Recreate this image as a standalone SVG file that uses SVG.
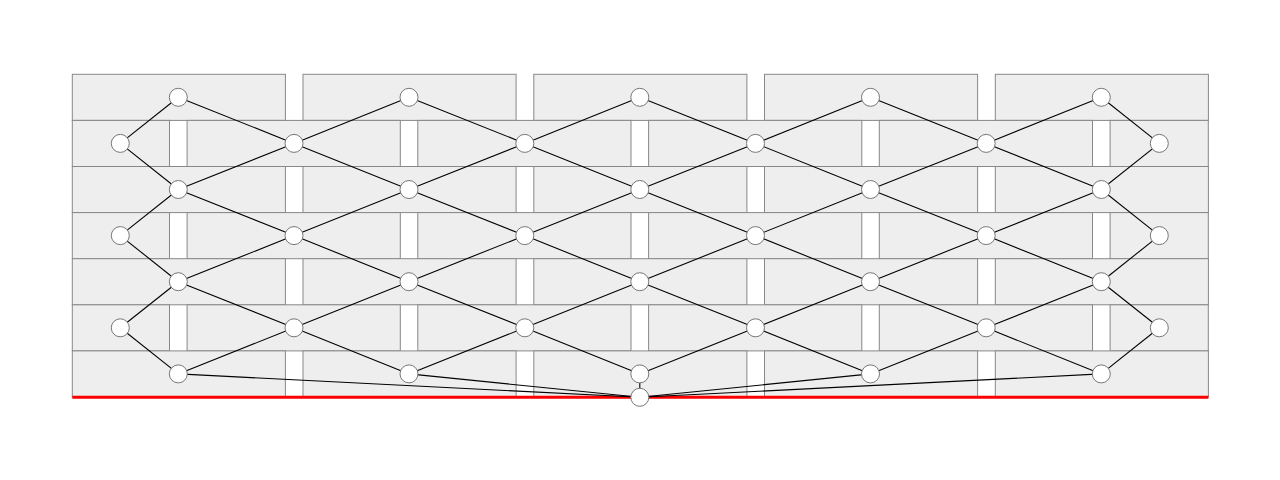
<svg xmlns="http://www.w3.org/2000/svg" width="1280" height="480" viewBox="0 0 1280 480">
<style>
.cell{fill:#eeeeee;stroke:#888888;stroke-width:1}
.edge{stroke:#000000;stroke-width:1.1;fill:none}
.node{fill:#ffffff;stroke:#777777;stroke-width:1}
.base{stroke:#ff0000;stroke-width:3}
</style>
<g id="grid">
<rect class="cell" x="72.3" y="74.3" width="213.1" height="46.1"/>
<rect class="cell" x="303" y="74.3" width="213.1" height="46.1"/>
<rect class="cell" x="533.8" y="74.3" width="213.1" height="46.1"/>
<rect class="cell" x="764.5" y="74.3" width="213.1" height="46.1"/>
<rect class="cell" x="995.3" y="74.3" width="213.1" height="46.1"/>
<rect class="cell" x="72.3" y="120.4" width="97.2" height="46.1"/>
<rect class="cell" x="187.1" y="120.4" width="213.2" height="46.1"/>
<rect class="cell" x="417.8" y="120.4" width="213.2" height="46.1"/>
<rect class="cell" x="648.6" y="120.4" width="213.2" height="46.1"/>
<rect class="cell" x="879.3" y="120.4" width="213.2" height="46.1"/>
<rect class="cell" x="1110.1" y="120.4" width="98.2" height="46.1"/>
<rect class="cell" x="72.3" y="166.5" width="213.1" height="46.1"/>
<rect class="cell" x="303" y="166.5" width="213.1" height="46.1"/>
<rect class="cell" x="533.8" y="166.5" width="213.1" height="46.1"/>
<rect class="cell" x="764.5" y="166.5" width="213.1" height="46.1"/>
<rect class="cell" x="995.3" y="166.5" width="213.1" height="46.1"/>
<rect class="cell" x="72.3" y="212.6" width="97.2" height="46.1"/>
<rect class="cell" x="187.1" y="212.6" width="213.2" height="46.1"/>
<rect class="cell" x="417.8" y="212.6" width="213.2" height="46.1"/>
<rect class="cell" x="648.6" y="212.6" width="213.2" height="46.1"/>
<rect class="cell" x="879.3" y="212.6" width="213.2" height="46.1"/>
<rect class="cell" x="1110.1" y="212.6" width="98.2" height="46.1"/>
<rect class="cell" x="72.3" y="258.7" width="213.1" height="46.1"/>
<rect class="cell" x="303" y="258.7" width="213.1" height="46.1"/>
<rect class="cell" x="533.8" y="258.7" width="213.1" height="46.1"/>
<rect class="cell" x="764.5" y="258.7" width="213.1" height="46.1"/>
<rect class="cell" x="995.3" y="258.7" width="213.1" height="46.1"/>
<rect class="cell" x="72.3" y="304.8" width="97.2" height="46.1"/>
<rect class="cell" x="187.1" y="304.8" width="213.2" height="46.1"/>
<rect class="cell" x="417.8" y="304.8" width="213.2" height="46.1"/>
<rect class="cell" x="648.6" y="304.8" width="213.2" height="46.1"/>
<rect class="cell" x="879.3" y="304.8" width="213.2" height="46.1"/>
<rect class="cell" x="1110.1" y="304.8" width="98.2" height="46.1"/>
<rect class="cell" x="72.3" y="350.9" width="213.1" height="46.1"/>
<rect class="cell" x="303" y="350.9" width="213.1" height="46.1"/>
<rect class="cell" x="533.8" y="350.9" width="213.1" height="46.1"/>
<rect class="cell" x="764.5" y="350.9" width="213.1" height="46.1"/>
<rect class="cell" x="995.3" y="350.9" width="213.1" height="46.1"/>
<line class="base" x1="72.3" y1="397.3" x2="1208.4" y2="397.3"/>
</g>
<g id="connectors">
<line class="edge" x1="178.3" y1="97.3" x2="120.3" y2="143.4"/>
<line class="edge" x1="178.3" y1="97.3" x2="294" y2="143.4"/>
<line class="edge" x1="409" y1="97.3" x2="294" y2="143.4"/>
<line class="edge" x1="409" y1="97.3" x2="524.8" y2="143.4"/>
<line class="edge" x1="639.8" y1="97.3" x2="524.8" y2="143.4"/>
<line class="edge" x1="639.8" y1="97.3" x2="755.5" y2="143.4"/>
<line class="edge" x1="870.5" y1="97.3" x2="755.5" y2="143.4"/>
<line class="edge" x1="870.5" y1="97.3" x2="986.2" y2="143.4"/>
<line class="edge" x1="1101.3" y1="97.3" x2="986.2" y2="143.4"/>
<line class="edge" x1="1101.3" y1="97.3" x2="1159.3" y2="143.4"/>
<line class="edge" x1="178.3" y1="189.5" x2="120.3" y2="143.4"/>
<line class="edge" x1="178.3" y1="189.5" x2="294" y2="143.4"/>
<line class="edge" x1="409" y1="189.5" x2="294" y2="143.4"/>
<line class="edge" x1="409" y1="189.5" x2="524.8" y2="143.4"/>
<line class="edge" x1="639.8" y1="189.5" x2="524.8" y2="143.4"/>
<line class="edge" x1="639.8" y1="189.5" x2="755.5" y2="143.4"/>
<line class="edge" x1="870.5" y1="189.5" x2="755.5" y2="143.4"/>
<line class="edge" x1="870.5" y1="189.5" x2="986.2" y2="143.4"/>
<line class="edge" x1="1101.3" y1="189.5" x2="986.2" y2="143.4"/>
<line class="edge" x1="1101.3" y1="189.5" x2="1159.3" y2="143.4"/>
<line class="edge" x1="178.3" y1="189.5" x2="120.3" y2="235.6"/>
<line class="edge" x1="178.3" y1="189.5" x2="294" y2="235.6"/>
<line class="edge" x1="409" y1="189.5" x2="294" y2="235.6"/>
<line class="edge" x1="409" y1="189.5" x2="524.8" y2="235.6"/>
<line class="edge" x1="639.8" y1="189.5" x2="524.8" y2="235.6"/>
<line class="edge" x1="639.8" y1="189.5" x2="755.5" y2="235.6"/>
<line class="edge" x1="870.5" y1="189.5" x2="755.5" y2="235.6"/>
<line class="edge" x1="870.5" y1="189.5" x2="986.2" y2="235.6"/>
<line class="edge" x1="1101.3" y1="189.5" x2="986.2" y2="235.6"/>
<line class="edge" x1="1101.3" y1="189.5" x2="1159.3" y2="235.6"/>
<line class="edge" x1="178.3" y1="281.7" x2="120.3" y2="235.6"/>
<line class="edge" x1="178.3" y1="281.7" x2="294" y2="235.6"/>
<line class="edge" x1="409" y1="281.7" x2="294" y2="235.6"/>
<line class="edge" x1="409" y1="281.7" x2="524.8" y2="235.6"/>
<line class="edge" x1="639.8" y1="281.7" x2="524.8" y2="235.6"/>
<line class="edge" x1="639.8" y1="281.7" x2="755.5" y2="235.6"/>
<line class="edge" x1="870.5" y1="281.7" x2="755.5" y2="235.6"/>
<line class="edge" x1="870.5" y1="281.7" x2="986.2" y2="235.6"/>
<line class="edge" x1="1101.3" y1="281.7" x2="986.2" y2="235.6"/>
<line class="edge" x1="1101.3" y1="281.7" x2="1159.3" y2="235.6"/>
<line class="edge" x1="178.3" y1="281.7" x2="120.3" y2="327.8"/>
<line class="edge" x1="178.3" y1="281.7" x2="294" y2="327.8"/>
<line class="edge" x1="409" y1="281.7" x2="294" y2="327.8"/>
<line class="edge" x1="409" y1="281.7" x2="524.8" y2="327.8"/>
<line class="edge" x1="639.8" y1="281.7" x2="524.8" y2="327.8"/>
<line class="edge" x1="639.8" y1="281.7" x2="755.5" y2="327.8"/>
<line class="edge" x1="870.5" y1="281.7" x2="755.5" y2="327.8"/>
<line class="edge" x1="870.5" y1="281.7" x2="986.2" y2="327.8"/>
<line class="edge" x1="1101.3" y1="281.7" x2="986.2" y2="327.8"/>
<line class="edge" x1="1101.3" y1="281.7" x2="1159.3" y2="327.8"/>
<line class="edge" x1="178.3" y1="373.9" x2="120.3" y2="327.8"/>
<line class="edge" x1="178.3" y1="373.9" x2="294" y2="327.8"/>
<line class="edge" x1="409" y1="373.9" x2="294" y2="327.8"/>
<line class="edge" x1="409" y1="373.9" x2="524.8" y2="327.8"/>
<line class="edge" x1="639.8" y1="373.9" x2="524.8" y2="327.8"/>
<line class="edge" x1="639.8" y1="373.9" x2="755.5" y2="327.8"/>
<line class="edge" x1="870.5" y1="373.9" x2="755.5" y2="327.8"/>
<line class="edge" x1="870.5" y1="373.9" x2="986.2" y2="327.8"/>
<line class="edge" x1="1101.3" y1="373.9" x2="986.2" y2="327.8"/>
<line class="edge" x1="1101.3" y1="373.9" x2="1159.3" y2="327.8"/>
<line class="edge" x1="178.3" y1="373.9" x2="639.8" y2="397.3"/>
<line class="edge" x1="409" y1="373.9" x2="639.8" y2="397.3"/>
<line class="edge" x1="639.8" y1="373.9" x2="639.8" y2="397.3"/>
<line class="edge" x1="870.5" y1="373.9" x2="639.8" y2="397.3"/>
<line class="edge" x1="1101.3" y1="373.9" x2="639.8" y2="397.3"/>
</g>
<g id="n0-0"><circle class="node" cx="178.3" cy="97.3" r="9"/></g>
<g id="n0-1"><circle class="node" cx="409" cy="97.3" r="9"/></g>
<g id="n0-2"><circle class="node" cx="639.8" cy="97.3" r="9"/></g>
<g id="n0-3"><circle class="node" cx="870.5" cy="97.3" r="9"/></g>
<g id="n0-4"><circle class="node" cx="1101.3" cy="97.3" r="9"/></g>
<g id="n1-0"><circle class="node" cx="120.3" cy="143.4" r="9"/></g>
<g id="n1-1"><circle class="node" cx="294" cy="143.4" r="9"/></g>
<g id="n1-2"><circle class="node" cx="524.8" cy="143.4" r="9"/></g>
<g id="n1-3"><circle class="node" cx="755.5" cy="143.4" r="9"/></g>
<g id="n1-4"><circle class="node" cx="986.2" cy="143.4" r="9"/></g>
<g id="n1-5"><circle class="node" cx="1159.3" cy="143.4" r="9"/></g>
<g id="n2-0"><circle class="node" cx="178.3" cy="189.5" r="9"/></g>
<g id="n2-1"><circle class="node" cx="409" cy="189.5" r="9"/></g>
<g id="n2-2"><circle class="node" cx="639.8" cy="189.5" r="9"/></g>
<g id="n2-3"><circle class="node" cx="870.5" cy="189.5" r="9"/></g>
<g id="n2-4"><circle class="node" cx="1101.3" cy="189.5" r="9"/></g>
<g id="n3-0"><circle class="node" cx="120.3" cy="235.6" r="9"/></g>
<g id="n3-1"><circle class="node" cx="294" cy="235.6" r="9"/></g>
<g id="n3-2"><circle class="node" cx="524.8" cy="235.6" r="9"/></g>
<g id="n3-3"><circle class="node" cx="755.5" cy="235.6" r="9"/></g>
<g id="n3-4"><circle class="node" cx="986.2" cy="235.6" r="9"/></g>
<g id="n3-5"><circle class="node" cx="1159.3" cy="235.6" r="9"/></g>
<g id="n4-0"><circle class="node" cx="178.3" cy="281.7" r="9"/></g>
<g id="n4-1"><circle class="node" cx="409" cy="281.7" r="9"/></g>
<g id="n4-2"><circle class="node" cx="639.8" cy="281.7" r="9"/></g>
<g id="n4-3"><circle class="node" cx="870.5" cy="281.7" r="9"/></g>
<g id="n4-4"><circle class="node" cx="1101.3" cy="281.7" r="9"/></g>
<g id="n5-0"><circle class="node" cx="120.3" cy="327.8" r="9"/></g>
<g id="n5-1"><circle class="node" cx="294" cy="327.8" r="9"/></g>
<g id="n5-2"><circle class="node" cx="524.8" cy="327.8" r="9"/></g>
<g id="n5-3"><circle class="node" cx="755.5" cy="327.8" r="9"/></g>
<g id="n5-4"><circle class="node" cx="986.2" cy="327.8" r="9"/></g>
<g id="n5-5"><circle class="node" cx="1159.3" cy="327.8" r="9"/></g>
<g id="n6-0"><circle class="node" cx="178.3" cy="373.9" r="9"/></g>
<g id="n6-1"><circle class="node" cx="409" cy="373.9" r="9"/></g>
<g id="n6-2"><circle class="node" cx="639.8" cy="373.9" r="9"/></g>
<g id="n6-3"><circle class="node" cx="870.5" cy="373.9" r="9"/></g>
<g id="n6-4"><circle class="node" cx="1101.3" cy="373.9" r="9"/></g>
<g id="root"><circle class="node" cx="639.8" cy="397.3" r="9"/></g>
</svg>
